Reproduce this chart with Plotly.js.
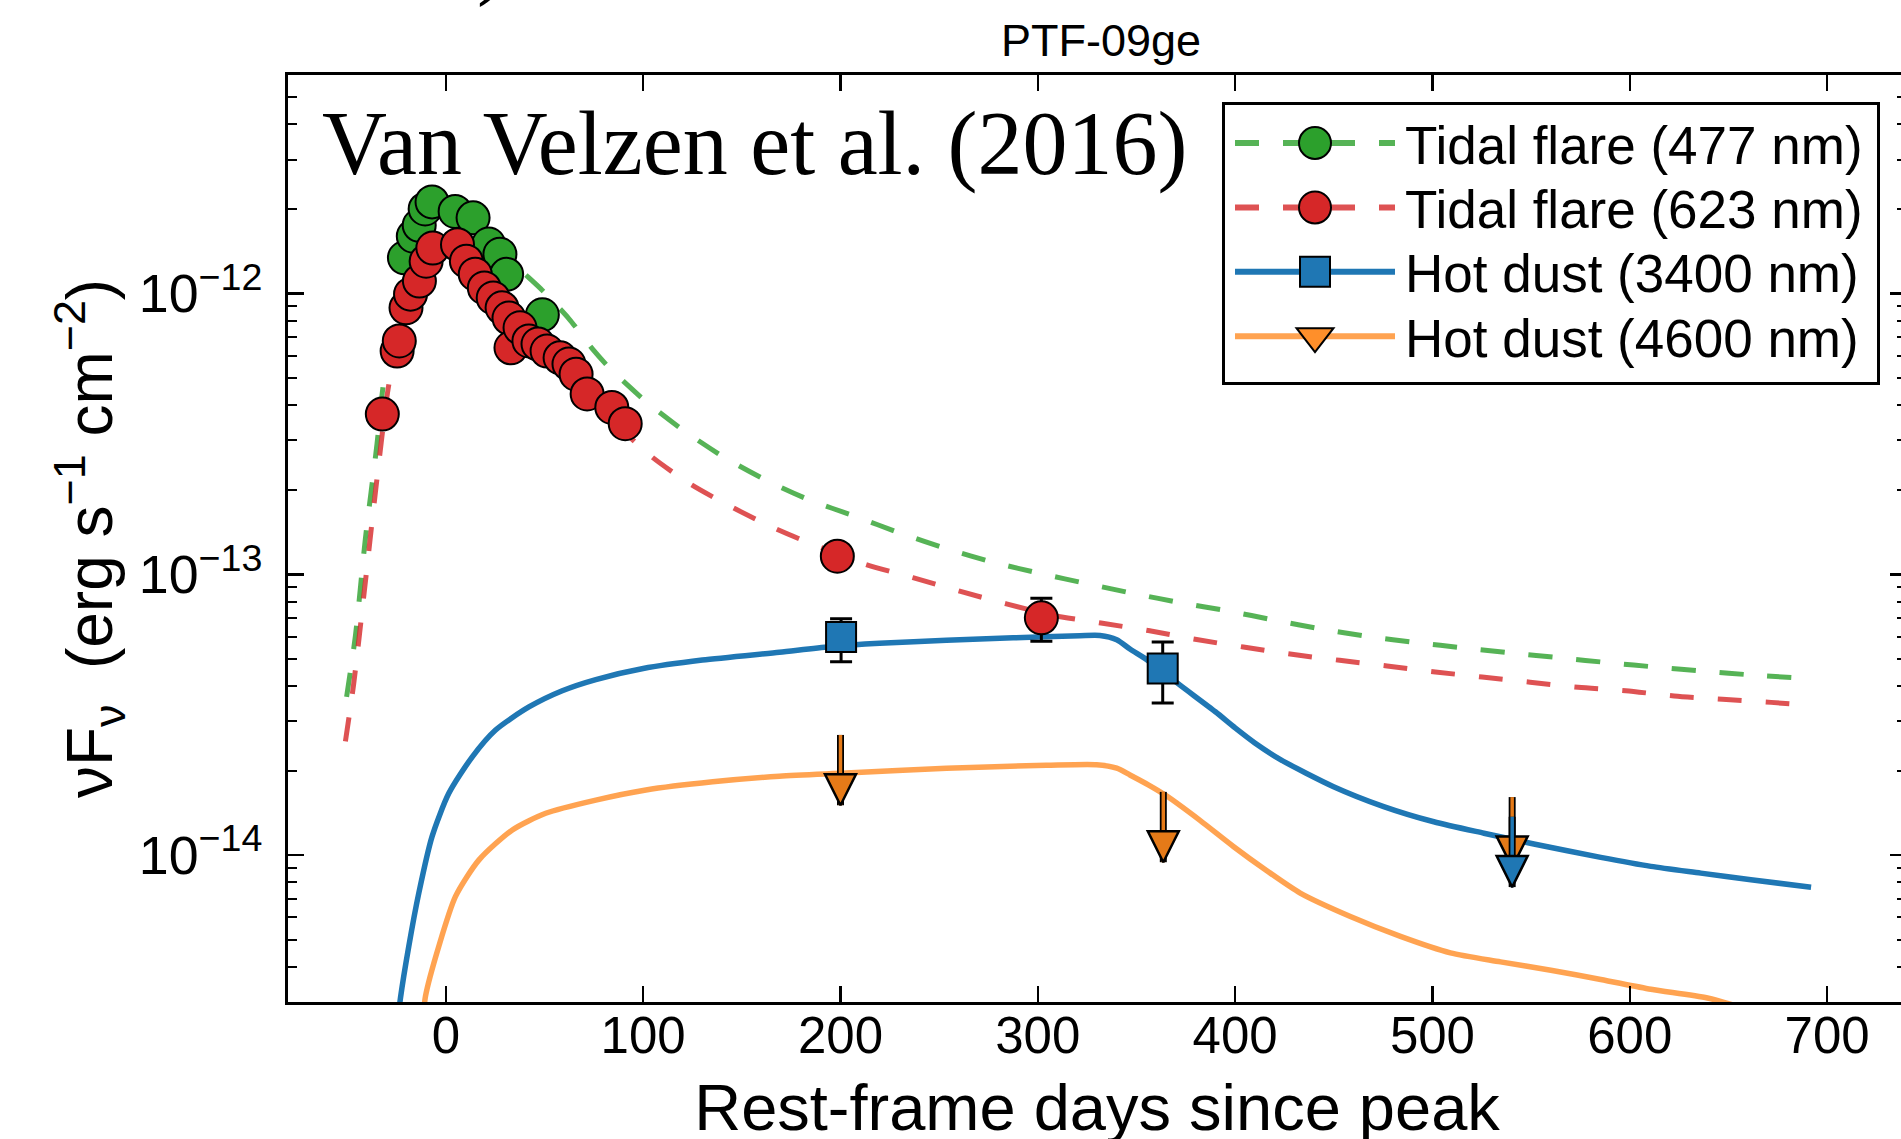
<!DOCTYPE html>
<html><head><meta charset="utf-8">
<script src="https://cdn.plot.ly/plotly-3.0.1.min.js"></script>
<style>
html,body{margin:0;padding:0;overflow:hidden;background:#fff;width:1901px;height:1139px}
#plot{width:1920px;height:1160px}
</style>
</head><body><div id="plot"></div>
<script>
// ---- data ----
const greenDays = [-21.0, -16.5, -13.5, -10.5, -7.0, 4.7, 13.8, 21.7, 27.4, 30.8, 48.9];
const greenFlux = [1.34e-12, 1.60e-12, 1.75e-12, 2.00e-12, 2.12e-12, 1.96e-12, 1.86e-12, 1.50e-12, 1.38e-12, 1.17e-12, 8.4e-13];

const redDays = [-32.2, -24.7, -23.6, -20.2, -17.9, -13.4, -10.0, -6.6, 5.9, 10.4, 14.9, 19.5, 24.0, 28.5, 32.0, 33.0, 37.6, 42.1, 46.7, 51.3, 57.9, 62.4, 66.0, 71.6, 84.1, 90.9];
const redFlux = [3.72e-13, 6.24e-13, 6.78e-13, 8.89e-13, 9.95e-13, 1.107e-12, 1.303e-12, 1.452e-12, 1.493e-12, 1.303e-12, 1.172e-12, 1.047e-12, 9.64e-13, 8.89e-13, 8.18e-13, 6.41e-13, 7.55e-13, 6.78e-13, 6.61e-13, 6.24e-13, 5.90e-13, 5.61e-13, 5.16e-13, 4.39e-13, 3.93e-13, 3.44e-13];

const redLateDays = [198.4, 301.8];
const redLateFlux = [1.16e-13, 7.0e-14];
const redLateErr = [0, 1.22e-14];

const dustBlueDays = [200.3, 363.3];
const dustBlueFlux = [5.98e-14, 4.62e-14];
const dustBlueErrPlus = [0.97e-14, 1.12e-14];
const dustBlueErrMinus = [1.10e-14, 1.14e-14];

const limOrangeDays = [200.0, 363.6, 540.4];
const limOrangeFlux = [2.68e-14, 1.68e-14, 1.61e-14];
const limBlueDays = [540.4];
const limBlueFlux = [1.37e-14];

const modelGreenDays = [-50.3, -45.8, -40.8, -34.9, -32.0, -28, -24, -20, -15, -10, -5, 0, 5, 10, 20, 30, 40, 48.7, 62.4, 74.6, 83.6, 102.2, 120.8, 141.1, 163.1, 185.1, 206.3, 230.6, 254.5, 278.2, 301.9, 325.5, 349.2, 372.9, 396.6, 420, 444, 468, 492, 516, 540, 565, 590, 614, 638, 662, 691];
const modelGreenFlux = [3.66e-14, 6.07e-14, 1.337e-13, 2.91e-13, 4.56e-13, 7.08e-13, 1.0e-12, 1.29e-12, 1.62e-12, 1.91e-12, 2.07e-12, 2.11e-12, 2.04e-12, 1.91e-12, 1.62e-12, 1.38e-12, 1.175e-12, 1.03e-12, 8.13e-13, 6.31e-13, 5.37e-13, 4.08e-13, 3.24e-13, 2.61e-13, 2.15e-13, 1.83e-13, 1.62e-13, 1.40e-13, 1.23e-13, 1.10e-13, 1.005e-13, 9.25e-14, 8.53e-14, 7.91e-14, 7.40e-14, 6.87e-14, 6.38e-14, 6.0e-14, 5.71e-14, 5.47e-14, 5.25e-14, 5.04e-14, 4.84e-14, 4.67e-14, 4.52e-14, 4.38e-14, 4.25e-14];

const modelRedDays = [-50.9, -46.7, -41.1, -35.7, -29.3, -25, -20, -15, -10, -5, 0, 5, 10, 20, 30, 40, 50, 60, 70, 80, 90, 104.7, 124.2, 145.3, 167.4, 187.7, 213, 236.7, 260.4, 284.1, 307.8, 332, 356, 380.5, 404.2, 428.8, 453, 477, 501.5, 525.2, 549.5, 573.8, 598, 622.5, 647, 671.6, 690.3];
const modelRedFlux = [2.54e-14, 4.08e-14, 8.99e-14, 1.96e-13, 4.56e-13, 6.46e-13, 8.71e-13, 1.12e-12, 1.32e-12, 1.445e-12, 1.50e-12, 1.46e-12, 1.35e-12, 1.07e-12, 8.51e-13, 7.08e-13, 6.31e-13, 5.37e-13, 4.57e-13, 3.89e-13, 3.24e-13, 2.61e-13, 2.09e-13, 1.73e-13, 1.45e-13, 1.265e-13, 1.084e-13, 9.73e-14, 8.71e-14, 7.85e-14, 7.14e-14, 6.71e-14, 6.31e-14, 5.86e-14, 5.51e-14, 5.19e-14, 4.94e-14, 4.72e-14, 4.49e-14, 4.31e-14, 4.13e-14, 3.96e-14, 3.85e-14, 3.69e-14, 3.59e-14, 3.50e-14, 3.42e-14];

const modelBlueDays = [-24.5, -23, -18.8, -13.7, -7.0, 1.5, 13.4, 25.2, 42.1, 59, 76, 100, 130, 169, 194.4, 219.8, 253.7, 287.5, 321.3, 331.5, 340, 346.7, 355.2, 363, 372.1, 390, 400, 410, 423, 449.9, 475.3, 500.7, 526.1, 551.4, 585.3, 610.7, 636, 661.4, 691.9];
const modelBlueFlux = [2.51e-15, 3.10e-15, 4.73e-15, 7.33e-15, 1.164e-14, 1.66e-14, 2.24e-14, 2.79e-14, 3.37e-14, 3.85e-14, 4.22e-14, 4.62e-14, 4.95e-14, 5.28e-14, 5.52e-14, 5.68e-14, 5.82e-14, 5.94e-14, 6.05e-14, 6.06e-14, 5.85e-14, 5.42e-14, 4.97e-14, 4.52e-14, 4.03e-14, 3.24e-14, 2.84e-14, 2.51e-14, 2.19e-14, 1.754e-14, 1.49e-14, 1.315e-14, 1.197e-14, 1.096e-14, 9.82e-15, 9.12e-15, 8.63e-15, 8.17e-15, 7.69e-15];

const modelOrangeDays = [-11.5, -10.3, -3.6, 4.9, 16.8, 33.7, 50.6, 76, 101.4, 135.2, 169, 202.9, 253.7, 304.4, 329.8, 340, 346.7, 356, 365, 382.2, 399.1, 415, 433, 458.4, 483.8, 509.1, 534.5, 560, 585.3, 610.7, 639.4, 665];
const modelOrangeFlux = [2.63e-15, 3.15e-15, 4.73e-15, 7.13e-15, 9.62e-15, 1.23e-14, 1.41e-14, 1.57e-14, 1.706e-14, 1.824e-14, 1.91e-14, 1.96e-14, 2.04e-14, 2.09e-14, 2.10e-14, 2.04e-14, 1.93e-14, 1.78e-14, 1.63e-14, 1.33e-14, 1.074e-14, 8.91e-15, 7.33e-15, 6.05e-15, 5.14e-15, 4.49e-15, 4.17e-15, 3.89e-15, 3.61e-15, 3.33e-15, 3.10e-15, 2.75e-15];

const legendNames = ['Tidal flare (477 nm)', 'Tidal flare (623 nm)', 'Hot dust (3400 nm)', 'Hot dust (4600 nm)'];
const xTitle = 'Rest-frame days since peak';
const yTitle = 'νF<sub>ν</sub>\u00a0\u00a0(erg s<sup>−1</sup> cm<sup>−2</sup>)';
const plotTitle = 'PTF-09ge';
const credit = 'Van Velzen et al. (2016)';

// ---- styles ----
const C = {
  greenPt: '#2ca02c', greenLn: 'rgba(44,160,44,0.8)',
  redPt: '#d62728', redLn: 'rgba(214,39,40,0.8)',
  blue: '#1f77b4', orangeLn: 'rgba(255,127,14,0.72)', orangeArrow: '#e57a18', orangeLeg: '#ff8f2a'
};
const ARROW = 1.78; // drawing length of upper-limit arrows (factor in flux)

function segments(days, flux) {
  const x = [], y = [];
  days.forEach((d, i) => { x.push(d, d, null); y.push(flux[i], flux[i] / ARROW, null); });
  return {x, y};
}
const oSeg = segments(limOrangeDays, limOrangeFlux);
const bSeg = segments(limBlueDays, limBlueFlux);

const traces = [
  {x: modelGreenDays, y: modelGreenFlux, mode: 'lines', line: {color: C.greenLn, width: 5, dash: '24px,24px', shape: 'spline', smoothing: 0.7}, showlegend: false},
  {x: modelRedDays, y: modelRedFlux, mode: 'lines', line: {color: C.redLn, width: 5, dash: '24px,24px', shape: 'spline', smoothing: 0.7}, showlegend: false},
  {x: modelBlueDays, y: modelBlueFlux, mode: 'lines', line: {color: C.blue, width: 5.5, shape: 'spline', smoothing: 0.7}, showlegend: false},
  {x: modelOrangeDays, y: modelOrangeFlux, mode: 'lines', line: {color: C.orangeLn, width: 5.5, shape: 'spline', smoothing: 0.7}, showlegend: false},
  // upper limit arrows: orange
  {x: oSeg.x, y: oSeg.y, mode: 'lines', line: {color: 'black', width: 7}, showlegend: false},
  {x: oSeg.x, y: oSeg.y, mode: 'lines', line: {color: C.orangeArrow, width: 3.5}, showlegend: false},
  {x: limOrangeDays, y: limOrangeFlux.map(v => v / ARROW), mode: 'markers',
   marker: {symbol: 'arrow-down', size: 31, color: C.orangeArrow, line: {color: 'black', width: 2.5}}, showlegend: false},
  // upper limit arrows: blue
  {x: bSeg.x, y: bSeg.y, mode: 'lines', line: {color: 'black', width: 7}, showlegend: false},
  {x: bSeg.x, y: bSeg.y, mode: 'lines', line: {color: C.blue, width: 3.5}, showlegend: false},
  {x: limBlueDays, y: limBlueFlux.map(v => v / ARROW), mode: 'markers',
   marker: {symbol: 'arrow-down', size: 31, color: C.blue, line: {color: 'black', width: 2.5}}, showlegend: false},
  // data points
  {x: greenDays, y: greenFlux, mode: 'markers', marker: {symbol: 'circle', size: 33, color: C.greenPt, line: {color: 'black', width: 2}}, showlegend: false},
  {x: redDays, y: redFlux, mode: 'markers', marker: {symbol: 'circle', size: 33, color: C.redPt, line: {color: 'black', width: 2}}, showlegend: false},
  {x: redLateDays, y: redLateFlux, mode: 'markers', marker: {symbol: 'circle', size: 33, color: C.redPt, line: {color: 'black', width: 2}},
   error_y: {type: 'data', array: redLateErr, color: 'black', thickness: 3, width: 11}, showlegend: false},
  {x: dustBlueDays, y: dustBlueFlux, mode: 'markers', marker: {symbol: 'square', size: 30, color: C.blue, line: {color: 'black', width: 2}},
   error_y: {type: 'data', symmetric: false, array: dustBlueErrPlus, arrayminus: dustBlueErrMinus, color: 'black', thickness: 3, width: 11}, showlegend: false},
  // legend entries
  {x: [null], y: [null], name: legendNames[0], mode: 'lines+markers', line: {color: C.greenLn, width: 3, dash: '12px,12px'},
   marker: {symbol: 'circle', size: 16, color: C.greenPt, line: {color: 'black', width: 1}}},
  {x: [null], y: [null], name: legendNames[1], mode: 'lines+markers', line: {color: C.redLn, width: 3, dash: '12px,12px'},
   marker: {symbol: 'circle', size: 16, color: C.redPt, line: {color: 'black', width: 1}}},
  {x: [null], y: [null], name: legendNames[2], mode: 'lines+markers', line: {color: C.blue, width: 3},
   marker: {symbol: 'square', size: 15, color: C.blue, line: {color: 'black', width: 1}}},
  {x: [null], y: [null], name: legendNames[3], mode: 'lines+markers', line: {color: C.orangeLn, width: 3},
   marker: {symbol: 'triangle-down', size: 16, color: C.orangeLeg, line: {color: 'black', width: 1}}}
];

const FONT = 'Liberation Sans, Arial, Helvetica, sans-serif';
const SERIF = 'Liberation Serif, DejaVu Serif, serif';
const H = 1160;
const layout = {
  width: 1920, height: H,
  margin: {l: 288, r: 14, t: 75, b: H - 1002},
  paper_bgcolor: 'white', plot_bgcolor: 'white',
  font: {family: FONT, color: 'black', size: 51},
  showlegend: true,
  title: {text: plotTitle, font: {size: 45, family: FONT}, xref: 'paper', x: 0.5025, xanchor: 'center', yref: 'container', y: 1 - 40 / H, yanchor: 'middle'},
  xaxis: {
    range: [-80, 740], tick0: 0, dtick: 100, ticks: 'inside', ticklen: 16, tickwidth: 2.5, tickcolor: 'black',
    showline: true, linewidth: 3, linecolor: 'black', mirror: 'ticks', showgrid: false, zeroline: false,
    tickfont: {size: 51}, ticklabelstandoff: -13,
    title: {text: xTitle, font: {size: 65}, standoff: 22}
  },
  yaxis: {
    type: 'log', range: [Math.log10(3e-15), Math.log10(6e-12)], dtick: 1, exponentformat: 'power',
    ticks: 'inside', ticklen: 16, tickwidth: 2.5, tickcolor: 'black',
    minor: {dtick: 'D1', ticks: 'inside', ticklen: 9, tickwidth: 2, tickcolor: 'black', showgrid: false},
    showline: true, linewidth: 3, linecolor: 'black', mirror: 'ticks', showgrid: false, zeroline: false,
    tickfont: {size: 43}, ticklabelstandoff: 14,
    title: {text: yTitle, font: {size: 64}, standoff: 6}
  },
  legend: {
    x: 0.58, y: 0.97, xanchor: 'left', yanchor: 'top', bgcolor: 'white', bordercolor: 'black', borderwidth: 1.5,
    font: {size: 26.5, family: FONT}, itemwidth: 80, traceorder: 'normal'
  },
  annotations: [
    {text: credit, xref: 'paper', yref: 'paper', x: 0.0195, y: 0.926, xanchor: 'left', yanchor: 'middle',
     showarrow: false, font: {family: SERIF, size: 90, color: 'black'}},
    {text: ')', xref: 'paper', yref: 'paper', x: 0.126, y: 1.071, xanchor: 'center', yanchor: 'bottom',
     showarrow: false, font: {family: SERIF, size: 88, color: 'black'}}
  ]
};

Plotly.newPlot('plot', traces, layout, {staticPlot: true, displayModeBar: false}).then(gd => {
  const lg = gd.querySelector('.legend');
  if (!lg) return;
  lg.setAttribute('transform', 'translate(1222,102) scale(2)');
  // tighten legend rows to match the reference spacing
  const items = lg.querySelectorAll('g.traces');
  items.forEach((it, i) => {
    const m = /translate\(\s*([-\d.e]+)[ ,]+([-\d.e]+)\s*\)/.exec(it.getAttribute('transform') || '');
    const x = m ? parseFloat(m[1]) : 1.5;
    it.setAttribute('transform', 'translate(' + x + ',' + (20.5 + i * 32.2) + ')');
  });
  const bg = lg.querySelector('rect.bg');
  if (bg) { bg.setAttribute('height', 140); bg.setAttribute('width', 327.5); }
});
</script></body></html>
